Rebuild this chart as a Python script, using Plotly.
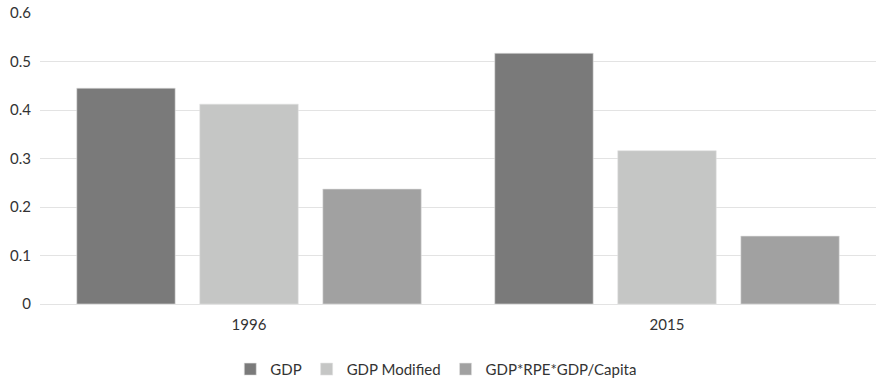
import plotly.graph_objects as go

years = ["1996", "2015"]
gdp = [0.445, 0.517]
gdp_modified = [0.412, 0.316]
gdp_rpe_capita = [0.237, 0.140]

series = [
    ("GDP", gdp, "#7a7a7a"),
    ("GDP Modified", gdp_modified, "#c5c6c5"),
    ("GDP*RPE*GDP/Capita", gdp_rpe_capita, "#a1a1a1"),
]

fig = go.Figure()
for name, vals, color in series:
    fig.add_trace(go.Bar(
        x=years, y=vals, name=name,
        marker=dict(color=color, line=dict(color="#e0e0e0", width=0.6)),
    ))

font = dict(family="Lato, Calibri, Carlito, sans-serif", size=15, color="#333333")

fig.update_layout(
    width=876, height=379,
    margin=dict(l=40, r=0, t=13, b=75, autoexpand=False),
    paper_bgcolor="white", plot_bgcolor="white",
    barmode="group", bargap=0.117, bargroupgap=0.2,
    font=font,
    showlegend=True,
    legend=dict(orientation="h", x=0.474, xanchor="center",
                yref="container", y=0.069, yanchor="top",
                font=font, itemwidth=30, traceorder="normal"),
    xaxis=dict(showgrid=False, showline=False, ticks="", tickfont=font,
               ticklabelstandoff=10),
    yaxis=dict(range=[0, 0.6], dtick=0.1, showgrid=True, gridcolor="#e3e3e3",
               gridwidth=1, zeroline=True, zerolinecolor="#e3e3e3", zerolinewidth=1,
               showline=False, ticks="", tickfont=font, tickformat="~g", ticklabelstandoff=8),
)

fig.write_html("out.html")
